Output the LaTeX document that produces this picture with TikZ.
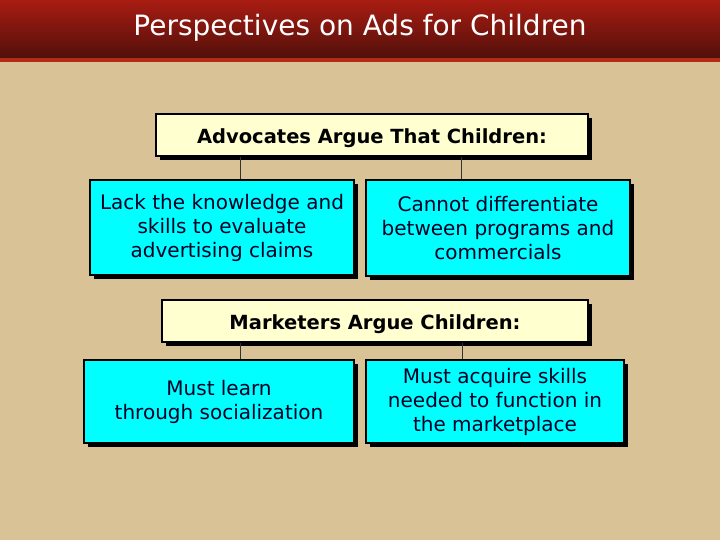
\documentclass[tikz,border=0pt]{standalone}
\usepackage{fontspec}
\setmainfont{DejaVu Sans}
\usetikzlibrary{shadows}
\definecolor{bg}{RGB}{216,194,150}
\definecolor{bartop}{RGB}{168,28,18}
\definecolor{barbot}{RGB}{82,16,10}
\definecolor{stripe}{RGB}{178,42,24}
\definecolor{hdrfill}{RGB}{255,255,208}
\definecolor{boxfill}{RGB}{0,255,255}
\tikzset{
  hdr/.style={draw=black, line width=1.4pt, fill=hdrfill, rectangle, inner sep=0pt,
    font=\fontsize{19.5}{24}\selectfont\bfseries, align=center,
    execute at begin node={\rule{0pt}{21pt}},
    drop shadow={shadow xshift=4pt, shadow yshift=-4pt, fill=black, opacity=1}},
  kid/.style={draw=black, line width=1.4pt, fill=boxfill, rectangle, inner sep=0pt,
    font=\fontsize{20}{24}\selectfont, align=center, text=black!85!blue,
    execute at begin node={\rule{0pt}{25pt}},
    drop shadow={shadow xshift=4pt, shadow yshift=-4pt, fill=black, opacity=1}},
  link/.style={draw=black!80, line width=1pt}
}
\begin{document}
\begin{tikzpicture}[x=1pt,y=-1pt]
\useasboundingbox (0,0) rectangle (720,540);
\fill[bg] (0,0) rectangle (720,540);
\shade[top color=bartop, bottom color=barbot] (0,0) rectangle (720,58);
\fill[stripe] (0,58) rectangle (720,62);
\node[text=white, font=\fontsize{28}{32}\selectfont] (title) at (360,28) {Perspectives on Ads for Children};

\node[hdr, minimum width=432pt, minimum height=42pt] (h1) at (372,135) {Advocates Argue That Children:};
\node[kid, minimum width=264pt, minimum height=95pt] (b1) at (222,227.5) {Lack the knowledge and\\skills to evaluate\\advertising claims};
\node[kid, minimum width=264pt, minimum height=96pt] (b2) at (498,228) {Cannot differentiate\\between programs and\\commercials};

\node[hdr, minimum width=426pt, minimum height=42pt] (h2) at (375,321) {Marketers Argue Children:};
\node[kid, minimum width=270pt, minimum height=83pt] (b3) at (219,401.5) {Must learn\\through socialization};
\node[kid, minimum width=258pt, minimum height=83pt] (b4) at (495,401.5) {Must acquire skills\\needed to function in\\the marketplace};

\draw[link] ([xshift=18pt]b1.north) -- ([xshift=18pt]b1.north |- h1.south);
\draw[link] ([xshift=-37pt]b2.north) -- ([xshift=-37pt]b2.north |- h1.south);
\draw[link] ([xshift=21pt]b3.north) -- ([xshift=21pt]b3.north |- h2.south);
\draw[link] ([xshift=-33pt]b4.north) -- ([xshift=-33pt]b4.north |- h2.south);
\end{tikzpicture}
\end{document}
